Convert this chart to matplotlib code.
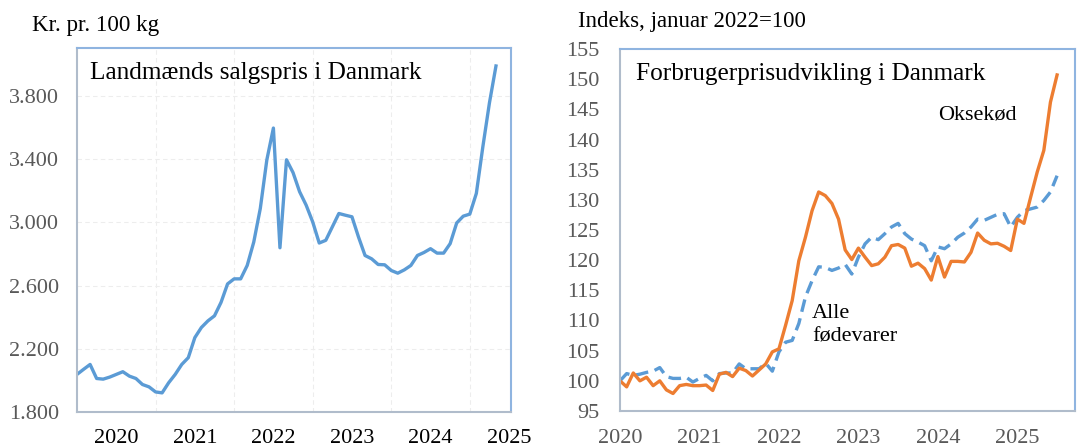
import numpy as np
import matplotlib
matplotlib.use("Agg")
import matplotlib.pyplot as plt

plt.rcParams['font.family'] = ['Liberation Serif', 'DejaVu Serif']

# Landmænds salgspris, kr. pr. 100 kg, monthly from Jan 2020
salgspris = [2038, 2070, 2101, 2012, 2008, 2021, 2038, 2055, 2027, 2012, 1974, 1959,
             1927, 1921, 1985, 2038, 2101, 2144, 2271, 2335, 2377, 2409, 2494, 2611,
             2643, 2643, 2728, 2876, 3089, 3397, 3598, 2840, 3397, 3316, 3195, 3110,
             3004, 2870, 2887, 2972, 3057, 3046, 3036, 2908, 2791, 2770, 2734, 2732,
             2696, 2679, 2700, 2728, 2791, 2810, 2834, 2806, 2806, 2866, 2997, 3040,
             3053, 3184, 3481, 3757, 3991]

# Forbrugerpriser, indeks januar 2022=100, monthly from Jan 2020
oksekoed = [100.0, 99.0, 101.3, 100.0, 100.6, 99.2, 100.0, 98.5, 97.9, 99.2, 99.4, 99.2,
            99.2, 99.3, 98.4, 101.1, 101.4, 100.7, 102.1, 101.7, 100.8, 101.8, 102.8, 104.8,
            105.3, 109.2, 113.3, 119.9, 123.8, 128.2, 131.3, 130.7, 129.4, 126.8, 121.7, 120.1,
            122.0, 120.5, 119.1, 119.4, 120.5, 122.4, 122.6, 122.0, 119.0, 119.5, 118.6, 116.7,
            120.6, 117.2, 119.8, 119.8, 119.7, 121.3, 124.5, 123.3, 122.7, 122.8, 122.3, 121.6,
            126.8, 126.1, 130.4, 134.6, 138.2, 146.2, 150.7]
alle_foedevarer = [100.0, 101.2, 100.9, 101.1, 101.4, 101.6, 102.2, 100.7, 100.4, 100.4, 100.6, 99.8,
                   100.4, 100.9, 100.0, 101.2, 101.3, 101.3, 102.8, 102.0, 102.0, 102.0, 102.9, 101.6,
                   104.8, 106.4, 106.7, 109.5, 113.9, 116.6, 118.9, 118.8, 118.3, 118.7, 119.3, 117.7,
                   120.5, 122.7, 123.8, 123.4, 124.4, 125.5, 126.1, 124.4, 123.5, 123.0, 122.4, 119.9,
                   122.2, 121.9, 122.7, 123.8, 124.5, 125.5, 126.8, 126.6, 127.1, 127.6, 127.7, 125.5,
                   127.1, 128.2, 128.5, 128.8, 129.9, 131.3, 134.0]

years = ['2020', '2021', '2022', '2023', '2024', '2025']

blue = '#5B9BD5'
orange = '#ED7D31'
grey_txt = '#595959'
frame = '#8FB4E0'
frame_lb = '#B0BCCB'

fig = plt.figure(figsize=(10.77, 4.48), dpi=100)

# left panel
ax1 = fig.add_axes([0.0715, 0.0804, 0.4030, 0.8125])
ax1.plot(np.arange(len(salgspris)), salgspris, color=blue, lw=2.4, solid_joinstyle='round')
ax1.set_xlim(0, 66.3)
ax1.set_ylim(1800, 4105)
ax1.set_yticks(np.arange(1800, 3801, 400))
ax1.set_yticklabels([f"{v:,}".replace(',', '.') for v in range(1800, 3801, 400)])
ax1.set_xticks(np.arange(12, 61, 12))
ax1.set_xticks(np.arange(6, 67, 12), minor=True)
ax1.set_xticklabels([])
ax1.set_xticklabels(years, minor=True)
ax1.tick_params(axis='x', which='both', length=0, pad=12, labelsize=16, labelcolor='black')
ax1.tick_params(axis='y', length=0, pad=13, labelsize=16, labelcolor=grey_txt)
ax1.grid(True, which='major', color='#EDEDED', ls=(0, (4, 3)), lw=0.8)
ax1.set_axisbelow(True)
for s in ['top', 'right']:
    ax1.spines[s].set_color(frame)
for s in ['left', 'bottom']:
    ax1.spines[s].set_color(frame_lb)
for s in ax1.spines.values():
    s.set_linewidth(1.5)
ax1.text(0.03, 0.93, 'Landmænds salgspris i Danmark', transform=ax1.transAxes,
         fontsize=18.2, va='center', ha='left')
fig.text(32 / 1077, 1 - 25 / 448, 'Kr. pr. 100 kg', fontsize=16.6, va='center', ha='left')

# right panel
ax2 = fig.add_axes([0.5757, 0.0826, 0.4224, 0.8080])
ax2.plot(np.arange(len(alle_foedevarer)), alle_foedevarer, color=blue, lw=2.4,
         ls=(0, (3.8, 2)), dash_capstyle='butt')
ax2.plot(np.arange(len(oksekoed)), oksekoed, color=orange, lw=2.4, solid_joinstyle='round')
ax2.set_xlim(0, 68.7)
ax2.set_ylim(95, 155)
ax2.set_yticks(np.arange(95, 156, 5))
ax2.set_xticks(np.arange(0, 61, 12))
ax2.set_xticklabels(years)
ax2.tick_params(axis='x', length=0, pad=13, labelsize=16, labelcolor=grey_txt)
ax2.tick_params(axis='y', length=0, pad=15, labelsize=16, labelcolor=grey_txt)
for s in ['top', 'right']:
    ax2.spines[s].set_color(frame)
for s in ['left', 'bottom']:
    ax2.spines[s].set_color(frame_lb)
for s in ax2.spines.values():
    s.set_linewidth(1.5)
ax2.text(0.035, 0.93, 'Forbrugerprisudvikling i Danmark', transform=ax2.transAxes,
         fontsize=18.2, va='center', ha='left')
ax2.text(48, 144.0, 'Oksekød', fontsize=16, va='center', ha='left')
ax2.text(29, 109.2, 'Alle\nfødevarer', fontsize=16, va='center', ha='left', linespacing=1.3)
fig.text(578 / 1077, 1 - 21 / 448, 'Indeks, januar 2022=100', fontsize=16.5, va='center', ha='left')

fig.savefig('out.png', dpi=100)
